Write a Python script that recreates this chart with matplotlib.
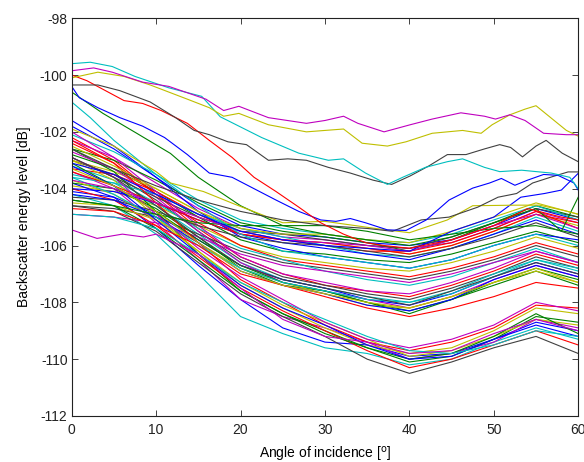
import matplotlib
matplotlib.use("Agg")
import matplotlib.pyplot as plt

plt.rcParams['font.family'] = ['Liberation Sans', 'DejaVu Sans']
plt.rcParams['axes.unicode_minus'] = False

# MATLAB default line colours
COLORS = [(0, 0, 1), (0, 0.5, 0), (1, 0, 0), (0, 0.75, 0.75),
          (0.75, 0, 0.75), (0.75, 0.75, 0), (0.25, 0.25, 0.25)]

# separated curves, sampled where they bend
magenta_ang = [0, 2.6, 4.8, 8.4, 11.5, 15.9, 18, 19.8, 23.3, 27.8, 30, 32.2, 33.9, 37,
               40.1, 42.7, 46.1, 48.9, 50.2, 51.9, 53.7, 55.9, 58.6, 60]
magenta_lvl = [-99.85, -99.75, -99.9, -100.25, -100.4, -100.85, -101.25, -101.1, -101.5,
               -101.7, -101.6, -101.45, -101.7, -102.0, -101.75, -101.55, -101.33, -101.45,
               -101.55, -101.4, -101.6, -102.05, -102.1, -102.1]

olive_ang = [0, 3.1, 6.2, 9.3, 13.7, 16.3, 18, 19.8, 23.3, 27.8, 30, 32.2, 34.4, 37.4,
             39.6, 42.7, 46.3, 48.5, 49.8, 51.9, 53.7, 55, 58.6, 60]
olive_lvl = [-100.1, -99.9, -100.05, -100.35, -100.85, -101.15, -101.45, -101.35, -101.75,
             -102.0, -101.95, -101.9, -102.4, -102.5, -102.35, -102.05, -101.95, -102.05,
             -101.75, -101.4, -101.2, -101.08, -101.95, -102.15]

cyan_ang = [0, 2.2, 4.8, 7.5, 11.5, 15.4, 17.6, 22.5, 26.9, 30.4, 32.2, 34.8, 37.4, 39.2,
            41.9, 44.5, 46.3, 48.9, 50.7, 53.3, 56.8, 59, 60]
cyan_lvl = [-99.6, -99.55, -99.7, -100.05, -100.45, -100.75, -101.47, -102.2, -102.75,
            -103.0, -102.95, -103.45, -103.85, -103.6, -103.25, -103.05, -102.95, -103.25,
            -103.4, -103.35, -103.45, -103.6, -104.0]

gray_ang = [0, 3.1, 5.7, 9.3, 12.3, 14.5, 16.3, 18.5, 20.7, 23.3, 25.6, 27.8, 30.4, 33,
            35.7, 37.9, 40.1, 42.3, 44.5, 46.7, 48.9, 50.7, 52, 53.4, 55, 56.2, 58.1, 60]
gray_lvl = [-100.35, -100.35, -100.55, -100.95, -101.5, -101.95, -102.1, -102.35, -102.45,
            -103.0, -102.95, -103.0, -103.25, -103.45, -103.7, -103.85, -103.55, -103.2,
            -102.8, -102.8, -102.6, -102.45, -102.55, -102.88, -102.5, -102.3, -102.75,
            -103.05]

red_ang = [0, 1.8, 4, 6.2, 8.4, 10.6, 13.7, 16.3, 19, 21.6, 24.2, 26.9, 29.5, 32.2, 34.8,
           37, 40, 45, 50, 54, 58, 60]
red_lvl = [-100.0, -100.2, -100.55, -100.9, -101.0, -101.25, -101.7, -102.3, -102.9,
           -103.6, -104.1, -104.65, -105.2, -105.6, -105.9, -106.0, -106.1, -105.8,
           -105.3, -104.7, -105.0, -105.1]

blue_ang = [0, 0.9, 3.1, 5.7, 8.4, 11, 13.7, 16.3, 19, 21.6, 24.2, 26.9, 29.5, 31.3, 33,
            34.8, 37.4, 39.6, 42, 44.7, 47.5, 49.5, 50.9, 52.5, 54, 55.9, 57.6, 59.5, 60]
blue_lvl = [-100.4, -100.8, -101.15, -101.5, -101.8, -102.2, -102.8, -103.45, -103.6,
            -104.0, -104.4, -104.8, -105.1, -105.15, -105.05, -105.2, -105.45, -105.47,
            -105.1, -104.4, -103.98, -103.8, -103.64, -103.88, -103.7, -103.5, -103.53,
            -103.8, -104.05]

gray2_ang = [0, 5, 10, 15, 20, 25, 30, 35, 38, 41.4, 44.7, 48.1, 50.5, 52.7, 54.6, 56.8,
             58.8, 60]
gray2_lvl = [-102.6, -103.3, -103.9, -104.4, -104.8, -105.1, -105.3, -105.4, -105.5,
             -105.1, -105.0, -104.65, -104.3, -104.17, -103.8, -103.59, -103.41, -103.41]

olive2_ang = [0, 5, 10, 11.7, 15.6, 19.6, 25, 30, 36, 40, 44.5, 47.5, 52.7, 55.4, 58.2,
              60]
olive2_lvl = [-101.9, -102.5, -103.4, -103.8, -104.1, -104.58, -105.2, -105.15, -105.4,
              -105.55, -105.1, -104.6, -104.58, -104.58, -104.76, -104.9]

green_ang = [0, 3.7, 7.7, 11.7, 15, 20, 25, 30, 35, 40, 45, 50, 55, 58, 60]
green_lvl = [-100.6, -101.35, -102.05, -102.76, -103.6, -104.6, -105.3, -105.6, -105.8,
             -106.0, -105.7, -105.2, -104.7, -105.5, -104.3]

cyan2_ang = [0, 2.2, 5, 10, 15, 20, 25, 30, 35, 40, 45, 50, 55, 60]
cyan2_lvl = [-100.95, -101.5, -102.3, -103.5, -104.6, -105.6, -106.2, -106.4, -106.6,
             -106.8, -106.5, -106.0, -105.6, -106.0]

blue2_ang = [0, 5, 10, 15, 20, 25, 30, 35, 40, 45, 50, 53.2, 56, 58, 60]
blue2_lvl = [-103.1, -103.5, -104.2, -104.9, -105.5, -105.8, -106.0, -106.1, -106.2,
             -105.5, -105.0, -104.3, -104.17, -104.05, -103.46]

magenta2_ang = [0, 3, 6, 8.5, 10, 15, 20, 25, 30, 35, 40, 45, 50, 55, 60]
magenta2_lvl = [-105.45, -105.75, -105.6, -105.7, -105.6, -106.3, -107.5, -108.6, -109.2,
                -109.4, -109.8, -109.7, -109.1, -108.6, -109.0]

# bundled curves, every 5 degrees
angle_grid = [0, 5, 10, 15, 20, 25, 30, 35, 40, 45, 50, 55, 60]

upper_band = [
    [-101.8, -102.6, -103.6, -104.6, -105.3, -105.6, -105.7, -105.9, -106.0, -105.8, -105.3, -104.7, -105.1],
    [-102.3, -102.9, -103.8, -104.7, -105.4, -105.7, -105.8, -106.0, -106.1, -105.9, -105.4, -104.8, -105.2],
    [-102.6, -103.0, -103.7, -104.5, -105.2, -105.5, -105.7, -105.9, -106.2, -105.8, -105.2, -104.6, -105.0],
    [-103.0, -103.4, -104.0, -104.8, -105.5, -105.8, -105.9, -106.1, -106.3, -106.0, -105.5, -104.9, -105.3],
    [-103.3, -103.5, -104.1, -104.9, -105.6, -105.8, -106.0, -106.2, -106.2, -105.9, -105.4, -104.8, -105.4],
    [-102.9, -103.6, -104.3, -105.0, -105.5, -105.6, -105.8, -106.0, -106.1, -105.7, -105.2, -104.7, -105.0],
    [-103.6, -103.8, -104.2, -104.9, -105.4, -105.7, -106.0, -106.3, -106.4, -106.1, -105.6, -105.0, -105.5],
    [-104.0, -104.1, -104.5, -105.1, -105.6, -105.9, -106.1, -106.3, -106.5, -106.1, -105.6, -105.1, -105.6],
    [-102.1, -102.7, -103.5, -104.4, -105.1, -105.4, -105.6, -105.8, -105.9, -105.6, -105.1, -104.6, -105.1],
    [-104.3, -104.4, -104.8, -105.3, -105.7, -105.9, -106.0, -106.2, -106.4, -106.1, -105.7, -105.2, -105.7],
    [-103.4, -103.9, -104.5, -105.1, -105.6, -105.8, -105.9, -106.1, -106.3, -106.0, -105.5, -104.9, -105.2],
    [-102.5, -103.2, -104.0, -104.8, -105.4, -105.6, -105.6, -105.8, -105.9, -105.5, -105.0, -104.5, -104.9],
    [-104.4, -104.6, -104.9, -105.2, -105.3, -105.3, -105.3, -105.5, -105.8, -105.6, -105.4, -105.3, -105.6],
    [-103.7, -104.0, -104.5, -105.0, -105.5, -105.8, -105.9, -106.0, -106.2, -105.8, -105.3, -104.9, -105.4],
]

between_band = [
    [-102.8, -103.3, -104.1, -105.0, -105.8, -106.2, -106.3, -106.5, -106.6, -106.3, -105.9, -105.5, -105.9],
    [-103.9, -104.1, -104.6, -105.3, -106.0, -106.4, -106.6, -106.8, -106.9, -106.6, -106.2, -105.7, -106.1],
    [-102.4, -103.1, -104.2, -105.2, -106.0, -106.5, -106.7, -106.9, -107.1, -106.8, -106.4, -105.9, -106.3],
    [-104.6, -104.7, -105.0, -105.6, -106.2, -106.6, -106.8, -107.0, -107.2, -106.9, -106.5, -106.0, -106.4],
    [-103.2, -103.7, -104.5, -105.4, -106.1, -106.5, -106.9, -107.2, -107.4, -107.1, -106.6, -106.1, -106.6],
    [-101.6, -102.5, -103.6, -104.8, -105.7, -106.1, -106.4, -106.6, -106.8, -106.5, -106.0, -105.6, -105.8],
    [-104.9, -105.0, -105.2, -105.7, -106.3, -106.7, -106.9, -107.1, -107.3, -107.0, -106.6, -106.2, -106.6],
]

middle_band = [
    [-102.2, -103.0, -104.2, -105.4, -106.4, -107.0, -107.4, -107.6, -107.8, -107.4, -106.9, -106.3, -106.7],
    [-103.0, -103.5, -104.4, -105.5, -106.5, -107.1, -107.4, -107.7, -107.9, -107.5, -107.0, -106.4, -106.8],
    [-103.5, -103.8, -104.6, -105.6, -106.6, -107.2, -107.5, -107.8, -108.0, -107.6, -107.0, -106.5, -106.9],
    [-104.1, -104.3, -104.9, -105.8, -106.7, -107.2, -107.5, -107.9, -108.1, -107.7, -107.1, -106.6, -107.0],
    [-102.7, -103.3, -104.3, -105.5, -106.6, -107.3, -107.6, -107.9, -108.2, -107.8, -107.2, -106.7, -107.1],
    [-103.8, -104.0, -104.7, -105.7, -106.8, -107.4, -107.6, -108.0, -108.3, -107.9, -107.3, -106.8, -107.2],
    [-104.5, -104.6, -105.1, -105.9, -106.8, -107.3, -107.7, -108.1, -108.2, -107.8, -107.3, -106.8, -107.3],
    [-103.1, -103.9, -104.8, -105.8, -106.7, -107.3, -107.6, -108.0, -108.4, -107.9, -107.4, -106.9, -107.4],
    [-102.0, -102.9, -104.1, -105.3, -106.4, -107.0, -107.3, -107.6, -107.7, -107.3, -106.8, -106.2, -106.6],
    [-104.2, -104.4, -105.0, -105.9, -106.9, -107.4, -107.7, -108.1, -108.3, -107.9, -107.2, -106.7, -107.1],
    [-103.6, -104.2, -105.0, -106.0, -106.8, -107.3, -107.6, -107.9, -108.0, -107.7, -107.1, -106.5, -106.8],
    [-102.9, -103.6, -104.6, -105.7, -106.7, -107.2, -107.5, -107.8, -108.1, -107.6, -107.1, -106.6, -107.0],
    [-104.7, -104.8, -105.3, -106.0, -107.0, -107.4, -107.8, -108.2, -108.5, -108.2, -107.8, -107.3, -107.5],
    [-103.3, -103.9, -104.8, -105.9, -106.9, -107.4, -107.7, -108.0, -108.2, -107.8, -107.3, -106.9, -107.3],
]

lower_band = [
    [-104.2, -104.6, -105.6, -107.0, -108.5, -109.1, -109.6, -109.8, -110.2, -110.0, -109.4, -108.9, -109.3],
    [-103.8, -104.3, -105.4, -106.7, -107.9, -108.9, -109.4, -109.5, -109.9, -109.8, -109.3, -108.7, -109.0],
    [-103.4, -104.0, -105.2, -106.5, -107.9, -108.5, -108.9, -109.4, -110.0, -109.8, -109.4, -108.6, -108.9],
    [-102.6, -103.4, -104.8, -106.3, -107.6, -108.4, -109.0, -109.6, -110.1, -109.9, -109.3, -108.5, -108.7],
    [-103.0, -103.7, -105.0, -106.2, -107.4, -108.2, -108.9, -109.5, -109.8, -109.6, -109.0, -108.2, -108.4],
    [-104.0, -104.4, -105.3, -106.4, -107.5, -108.3, -109.0, -109.7, -110.3, -110.0, -109.5, -109.0, -109.5],
    [-104.6, -104.8, -105.5, -106.6, -107.7, -108.5, -109.2, -110.0, -110.5, -110.1, -109.6, -109.2, -109.8],
    [-102.3, -103.1, -104.5, -105.9, -107.2, -108.0, -108.8, -109.4, -109.7, -109.4, -108.9, -108.1, -108.2],
    [-103.7, -104.2, -105.1, -106.2, -107.3, -108.1, -108.7, -109.3, -109.9, -109.7, -109.2, -108.6, -108.8],
    [-104.4, -104.6, -105.4, -106.5, -107.6, -108.4, -109.1, -109.6, -110.0, -109.8, -109.2, -108.4, -109.1],
    [-102.9, -103.6, -104.9, -106.1, -107.1, -107.9, -108.7, -109.3, -109.6, -109.3, -108.8, -108.0, -108.3],
    [-103.2, -103.9, -105.1, -106.3, -107.4, -108.2, -108.8, -109.5, -110.0, -109.9, -109.3, -108.8, -109.2],
    [-104.9, -105.0, -105.4, -106.3, -107.3, -108.0, -108.6, -109.2, -109.7, -109.8, -109.5, -109.0, -109.2],
]

fig = plt.figure(figsize=(5.84, 4.62), dpi=100)
ax = fig.add_axes([0.1228, 0.0996, 0.8673, 0.861])

# interleave the bands so the colour cycle mixes through them
bands = [upper_band, between_band, middle_band, lower_band]
bundle = []
longest = max(len(b) for b in bands)
for i in range(longest):
    for b in bands:
        if i < len(b):
            bundle.append(b[i])

lw = 0.8
for k, lvl in enumerate(bundle):
    ax.plot(angle_grid, lvl, color=COLORS[k % 7], lw=lw)

ax.plot(green_ang, green_lvl, color=COLORS[1], lw=lw)
ax.plot(cyan2_ang, cyan2_lvl, color=COLORS[3], lw=lw)
ax.plot(blue2_ang, blue2_lvl, color=COLORS[0], lw=lw)
ax.plot(magenta2_ang, magenta2_lvl, color=COLORS[4], lw=lw)
ax.plot(olive2_ang, olive2_lvl, color=COLORS[5], lw=lw)
ax.plot(gray2_ang, gray2_lvl, color=COLORS[6], lw=lw)
ax.plot(blue_ang, blue_lvl, color=COLORS[0], lw=lw)
ax.plot(red_ang, red_lvl, color=COLORS[2], lw=lw)
ax.plot(gray_ang, gray_lvl, color=COLORS[6], lw=lw)
ax.plot(cyan_ang, cyan_lvl, color=COLORS[3], lw=lw)
ax.plot(olive_ang, olive_lvl, color=COLORS[5], lw=lw)
ax.plot(magenta_ang, magenta_lvl, color=COLORS[4], lw=lw)

ax.set_xlim(0, 60)
ax.set_ylim(-112, -98)
ax.set_xticks(range(0, 61, 10))
ax.set_yticks(range(-112, -97, 2))
ax.tick_params(direction='in', top=True, right=True, length=4, width=0.6,
               labelsize=10, colors='#222222')
ax.tick_params(axis='x', pad=5)
ax.tick_params(axis='y', pad=3)
for s in ax.spines.values():
    s.set_linewidth(0.8)
    s.set_color('#222222')

ax.set_xlabel('Angle of incidence [$^{\\mathrm{o}}$]', fontsize=10, labelpad=6)
ax.set_ylabel('Backscatter energy level [dB]', fontsize=10, labelpad=6)

fig.savefig('out.png', dpi=100)
